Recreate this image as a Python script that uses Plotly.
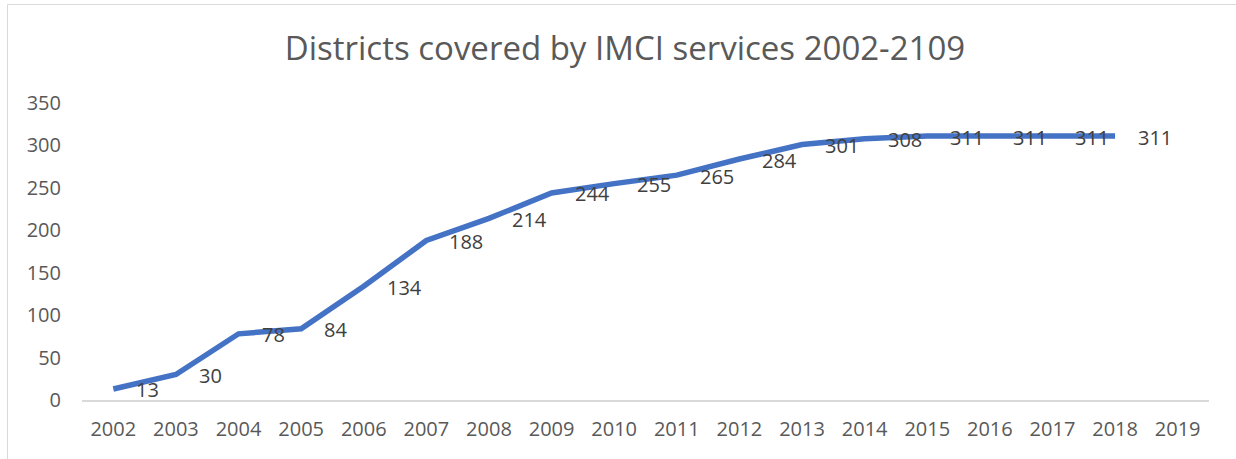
import plotly.graph_objects as go

# Districts covered by IMCI services, by year
years = ["2002", "2003", "2004", "2005", "2006", "2007", "2008", "2009", "2010",
         "2011", "2012", "2013", "2014", "2015", "2016", "2017", "2018", "2019"]
district_years = years[:17]
districts = [13, 30, 78, 84, 134, 188, 214, 244, 255, 265, 284, 301, 308, 311, 311, 311, 311]

title_text = "Districts covered by IMCI services 2002-2109"
y_ticks = [0, 50, 100, 150, 200, 250, 300, 350]

FONT = "Open Sans"
W, H = 1236, 459
L, R, T, B = 82, 27, 103, 59
pw, ph = W - L - R, H - T - B

fig = go.Figure()
fig.add_trace(go.Scatter(
    x=district_years, y=districts, mode="lines",
    line=dict(color="#4472C4", width=5.5),
    hoverinfo="x+y", showlegend=False,
))

# value labels placed to the right of each point (category index as x position)
for i, v in enumerate(districts):
    fig.add_annotation(x=i, y=v, xref="x", yref="y", text=str(v), showarrow=False,
                       xanchor="left", yanchor="middle", xshift=21, yshift=-1,
                       font=dict(family=FONT, size=20, color="#404040"))

# chart frame
def px_x(p):
    return (p - L) / pw

def px_y(p):
    return (H - B - p) / ph

fig.add_shape(type="rect", xref="paper", yref="paper",
              x0=px_x(7.5), x1=px_x(1250), y0=px_y(470), y1=px_y(4.5),
              line=dict(color="#d9d9d9", width=1), fillcolor="rgba(0,0,0,0)",
              layer="below")

fig.update_layout(
    width=W, height=H,
    margin=dict(l=L, r=R, t=T, b=B),
    paper_bgcolor="white", plot_bgcolor="white",
    title=dict(text=title_text, x=625 / W, xanchor="center",
               y=1 - 48 / H, yanchor="middle", yref="container",
               font=dict(family=FONT, size=33, color="#595959")),
    xaxis=dict(type="category", categoryorder="array", categoryarray=years,
               range=[-0.5, 17.5], showgrid=False, showline=True,
               linecolor="#d9d9d9", linewidth=1.5, ticks="", zeroline=False,
               tickfont=dict(family=FONT, size=20, color="#595959"),
               ticklabelstandoff=10),
    yaxis=dict(range=[0, 350], tickvals=y_ticks, showgrid=False, showline=False,
               zeroline=False, ticks="",
               tickfont=dict(family=FONT, size=20, color="#595959"),
               ticklabelstandoff=20),
)

fig.write_html("out.html")
